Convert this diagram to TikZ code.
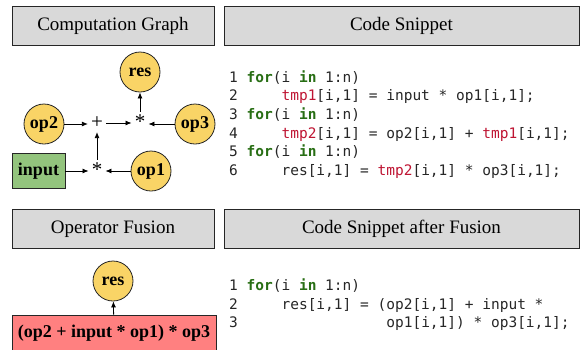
\documentclass[tikz,border=0pt]{standalone}
\usepackage{fontspec}
\setmainfont{Liberation Serif}
\setmonofont{DejaVu Sans Mono}
\usetikzlibrary{arrows.meta}

\definecolor{hdrgray}{RGB}{217,217,217}
\definecolor{opyellow}{RGB}{249,212,102}
\definecolor{ingreen}{RGB}{147,196,125}
\definecolor{fusered}{RGB}{255,128,128}
\definecolor{kwgreen}{RGB}{40,110,20}
\definecolor{varred}{RGB}{190,20,50}

\newcommand{\kw}[1]{\textcolor{kwgreen}{\textbf{#1}}}
\newcommand{\tv}[1]{\textcolor{varred}{#1}}
\newcommand{\sk}[1]{\hspace*{#1\fontcharwd\font`0}}

\tikzset{
  title/.style={draw=black!85, fill=hdrgray, line width=0.9pt, minimum height=39pt,
    font=\fontsize{19}{22}\selectfont},
  opnode/.style={circle, draw=black!85, fill=opyellow, minimum size=40pt, inner sep=0pt,
    line width=0.8pt, font=\fontsize{18}{20}\selectfont\bfseries},
  boxnode/.style={rectangle, draw=black!85, line width=0.8pt,
    font=\fontsize{18}{20}\selectfont\bfseries},
  sym/.style={inner sep=3pt, font=\fontsize{21}{22}\selectfont},
  arr/.style={-{Latex[length=6pt,width=5pt]}, line width=0.8pt},
  code/.style={anchor=base west, inner sep=0pt, font=\fontsize{14.5}{18}\ttfamily, text=black!85},
}

\begin{document}
\begin{tikzpicture}[x=1pt,y=-1pt]
    \useasboundingbox (0,0) rectangle (582,349);
    % headers
    \node[title, minimum width=202pt] (cgtitle) at (113,25.5) {Computation Graph};
    \node[title, minimum width=355pt] (cstitle) at (401.5,25.5) {Code Snippet};
    \node[title, minimum width=202pt] (oftitle) at (113,229) {Operator Fusion};
    \node[title, minimum width=355pt] (cftitle) at (401.5,229) {Code Snippet after Fusion};

    % computation graph
    \node[opnode] (res) at (140,72) {res};
    \node[opnode] (op2) at (44,124) {op2};
    \node[opnode] (op3) at (195,124) {op3};
    \node[opnode] (op1) at (151,171) {op1};
    \node[boxnode, fill=ingreen, minimum width=53pt, minimum height=35pt] (input) at (38.5,171) {input};
    \node[sym] (add) at (97,123) {+};
    \node[sym] (mul1) at (140,122) {*};
    \node[sym] (mul2) at (97,170) {*};

    \draw[arr] (op2) -- (op2 -| add.west);
    \draw[arr] (add) -- (add -| mul1.west);
    \draw[arr] (op3) -- (op3 -| mul1.east);
    \draw[arr] (mul1) -- (res);
    \draw[arr] (input) -- (input -| mul2.west);
    \draw[arr] (op1) -- (op1 -| mul2.east);
    \draw[arr] (mul2) -- (add);

    % code snippet
    \node[code] (cs1) at (229,82.3) {1 \kw{for}(i \kw{in} 1:n)};
    \node[code] (cs2) at (229,100.9) {2\sk{5}\tv{tmp1}[i,1] = input * op1[i,1];};
    \node[code] (cs3) at (229,119.5) {3 \kw{for}(i \kw{in} 1:n)};
    \node[code] (cs4) at (229,138.1) {4\sk{5}\tv{tmp2}[i,1] = op2[i,1] + \tv{tmp1}[i,1];};
    \node[code] (cs5) at (229,156.7) {5 \kw{for}(i \kw{in} 1:n)};
    \node[code] (cs6) at (229,175.3) {6\sk{5}res[i,1] = \tv{tmp2}[i,1] * op3[i,1];};

    % operator fusion
    \node[opnode] (fres) at (113,281) {res};
    \node[boxnode, fill=fusered, minimum width=204pt, minimum height=36pt] (fused) at (114,333)
        {(op2 + input * op1) * op3};
    \draw[arr] (fused) -- (fres);

    % code after fusion
    \node[code] (cf1) at (229,290.3) {1 \kw{for}(i \kw{in} 1:n)};
    \node[code] (cf2) at (229,309) {2\sk{5}res[i,1] = (op2[i,1] + input *};
    \node[code] (cf3) at (229,327.6) {3\sk{17}op1[i,1]) * op3[i,1];};
\end{tikzpicture}
\end{document}
